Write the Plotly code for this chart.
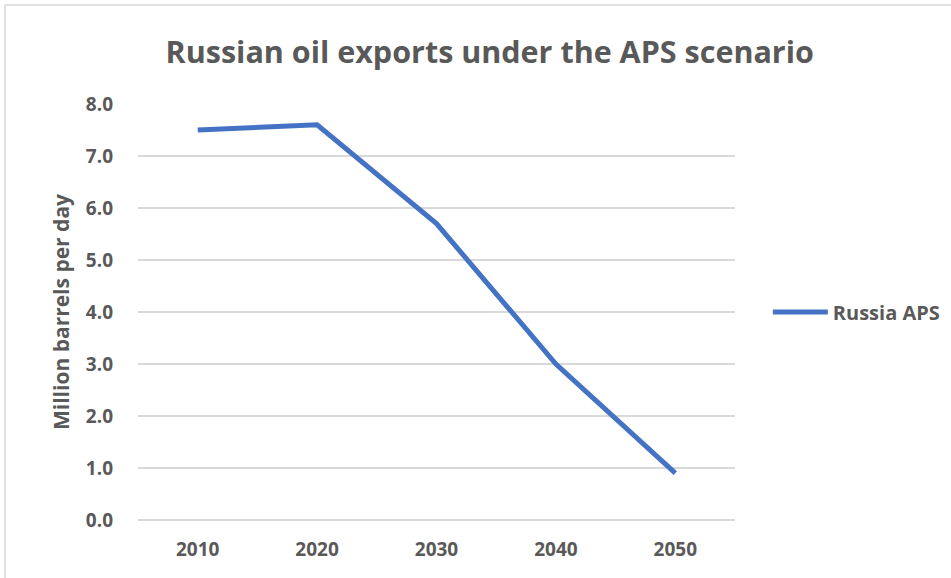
import plotly.graph_objects as go

years = ["2010", "2020", "2030", "2040", "2050"]
russia_aps = [7.5, 7.6, 5.7, 3.0, 0.9]
y_ticks = [0, 1, 2, 3, 4, 5, 6, 7, 8]

FONT = "Open Sans"
GREY = "#595959"

fig = go.Figure()
fig.add_trace(go.Scatter(
    x=years, y=russia_aps, mode="lines", name="Russia APS",
    line=dict(color="#4472C4", width=5),
))

fig.update_layout(
    width=951, height=578,
    margin=dict(l=138, r=216, t=104, b=58, autoexpand=False),
    paper_bgcolor="white", plot_bgcolor="white",
    title=dict(text="<b>Russian oil exports under the APS scenario</b>",
               x=0.515, xanchor="center", y=0.91, yanchor="middle",
               font=dict(family=FONT, size=30.5, color=GREY)),
    font=dict(family=FONT, color=GREY),
    xaxis=dict(type="category", range=[-0.5, 4.5], showgrid=False,
               showline=False, ticks="", ticklabelstandoff=16,
               tickfont=dict(size=19, color=GREY, weight="bold")),
    yaxis=dict(range=[0, 8], tickvals=y_ticks, tickformat=".1f",
               showgrid=True, gridcolor="#D9D9D9", gridwidth=1.5,
               zeroline=True, zerolinecolor="#D9D9D9", zerolinewidth=1.5,
               showline=False, ticks="", ticklabelstandoff=24,
               tickfont=dict(size=19, color=GREY, weight="bold"),
               title=dict(text="<b>Million barrels per day</b>",
                          font=dict(size=21, color=GREY), standoff=10)),
    legend=dict(x=1.055, xanchor="left", y=0.5, yanchor="middle",
                font=dict(size=20, color=GREY, weight="bold"),
                itemwidth=55, bgcolor="rgba(0,0,0,0)"),
    showlegend=True,
)

fig.add_shape(type="rect", xref="paper", yref="paper",
              x0=-0.2228, x1=1.6, y0=-0.3, y1=1.238,
              line=dict(color="#D9D9D9", width=1.5), layer="below")

fig.write_html("out.html")
